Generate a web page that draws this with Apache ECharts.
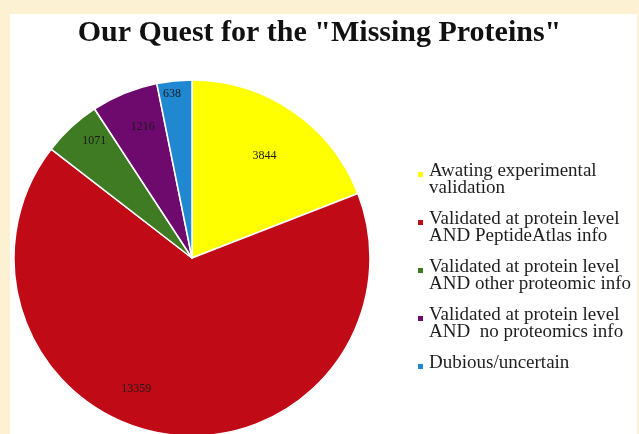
<!DOCTYPE html>
<html>
<head>
<meta charset="utf-8">
<script src="https://cdn.jsdelivr.net/npm/echarts@6/dist/echarts.min.js"></script>
<style>
  html, body { margin: 0; padding: 0; background: #fdf1d4; }
  #frame { position: absolute; left: 10px; top: 14px; width: 627px; height: 420px; background: #fff; }
  #chart { position: absolute; left: 0; top: 0; width: 639px; height: 434px; }
</style>
</head>
<body>
<div id="frame"></div>
<div id="chart"></div>
<script>
var categories = [
  'Awating experimental\nvalidation',
  'Validated at protein level\nAND PeptideAtlas info',
  'Validated at protein level\nAND other proteomic info',
  'Validated at protein level\nAND  no proteomics info',
  'Dubious/uncertain'
]
var proteinCounts = [3844, 13359, 1071, 1216, 638]
var sliceColors = ['#ffff00', '#c00a16', '#3f7b22', '#6e0a6e', '#1f88d0']

// value labels: how far out (vs the default middle spot) and how much turned (deg)
var labelReach = [1.36, 1.55, 1.66, 1.52, 1.8]
var labelTurn = [-1, -14.8, -3, -1.7, 1.2]
var pieCenter = [192, 258]

var chart = echarts.init(document.getElementById('chart'))
chart.setOption({
  animation: false,
  title: {
    text: 'Our Quest for the "Missing Proteins"',
    left: 'center',
    top: 13,
    textStyle: {
      fontFamily: 'Liberation Serif',
      fontWeight: 'bold',
      fontSize: 30,
      color: '#111'
    }
  },
  legend: {
    orient: 'vertical',
    left: 411,
    top: 156,
    itemWidth: 7,
    itemHeight: 35,
    itemGap: 11,
    icon: 'path://M0,0M0,9h7v7h-7zM7,35',
    formatter: function (name) {
      return name.indexOf('\n') < 0 ? name + '\n' : name
    },
    textStyle: {
      fontFamily: 'Liberation Serif',
      fontSize: 19,
      lineHeight: 17.5,
      color: '#1e1e1e'
    }
  },
  series: [{
    type: 'pie',
    center: pieCenter,
    radius: 178,
    startAngle: 90,
    clockwise: true,
    avoidLabelOverlap: false,
    color: sliceColors,
    itemStyle: { borderColor: '#fff', borderWidth: 1.5 },
    label: {
      position: 'inside',
      formatter: '{c}',
      fontFamily: 'Liberation Serif',
      fontSize: 12,
      color: '#1a1a1a'
    },
    labelLine: { show: false },
    labelLayout: function (params) {
      var i = params.dataIndex
      var r = params.labelRect
      var vx = r.x + r.width / 2 - pieCenter[0]
      var vy = r.y + r.height / 2 - pieCenter[1]
      var dist = Math.sqrt(vx * vx + vy * vy) * labelReach[i]
      var ang = Math.atan2(-vy, vx) + labelTurn[i] * Math.PI / 180
      var nx = dist * Math.cos(ang)
      var ny = -dist * Math.sin(ang)
      return { dx: nx - vx, dy: ny - vy }
    },
    data: categories.map(function (name, i) {
      return { name: name, value: proteinCounts[i] }
    })
  }]
})
</script>
</body>
</html>
